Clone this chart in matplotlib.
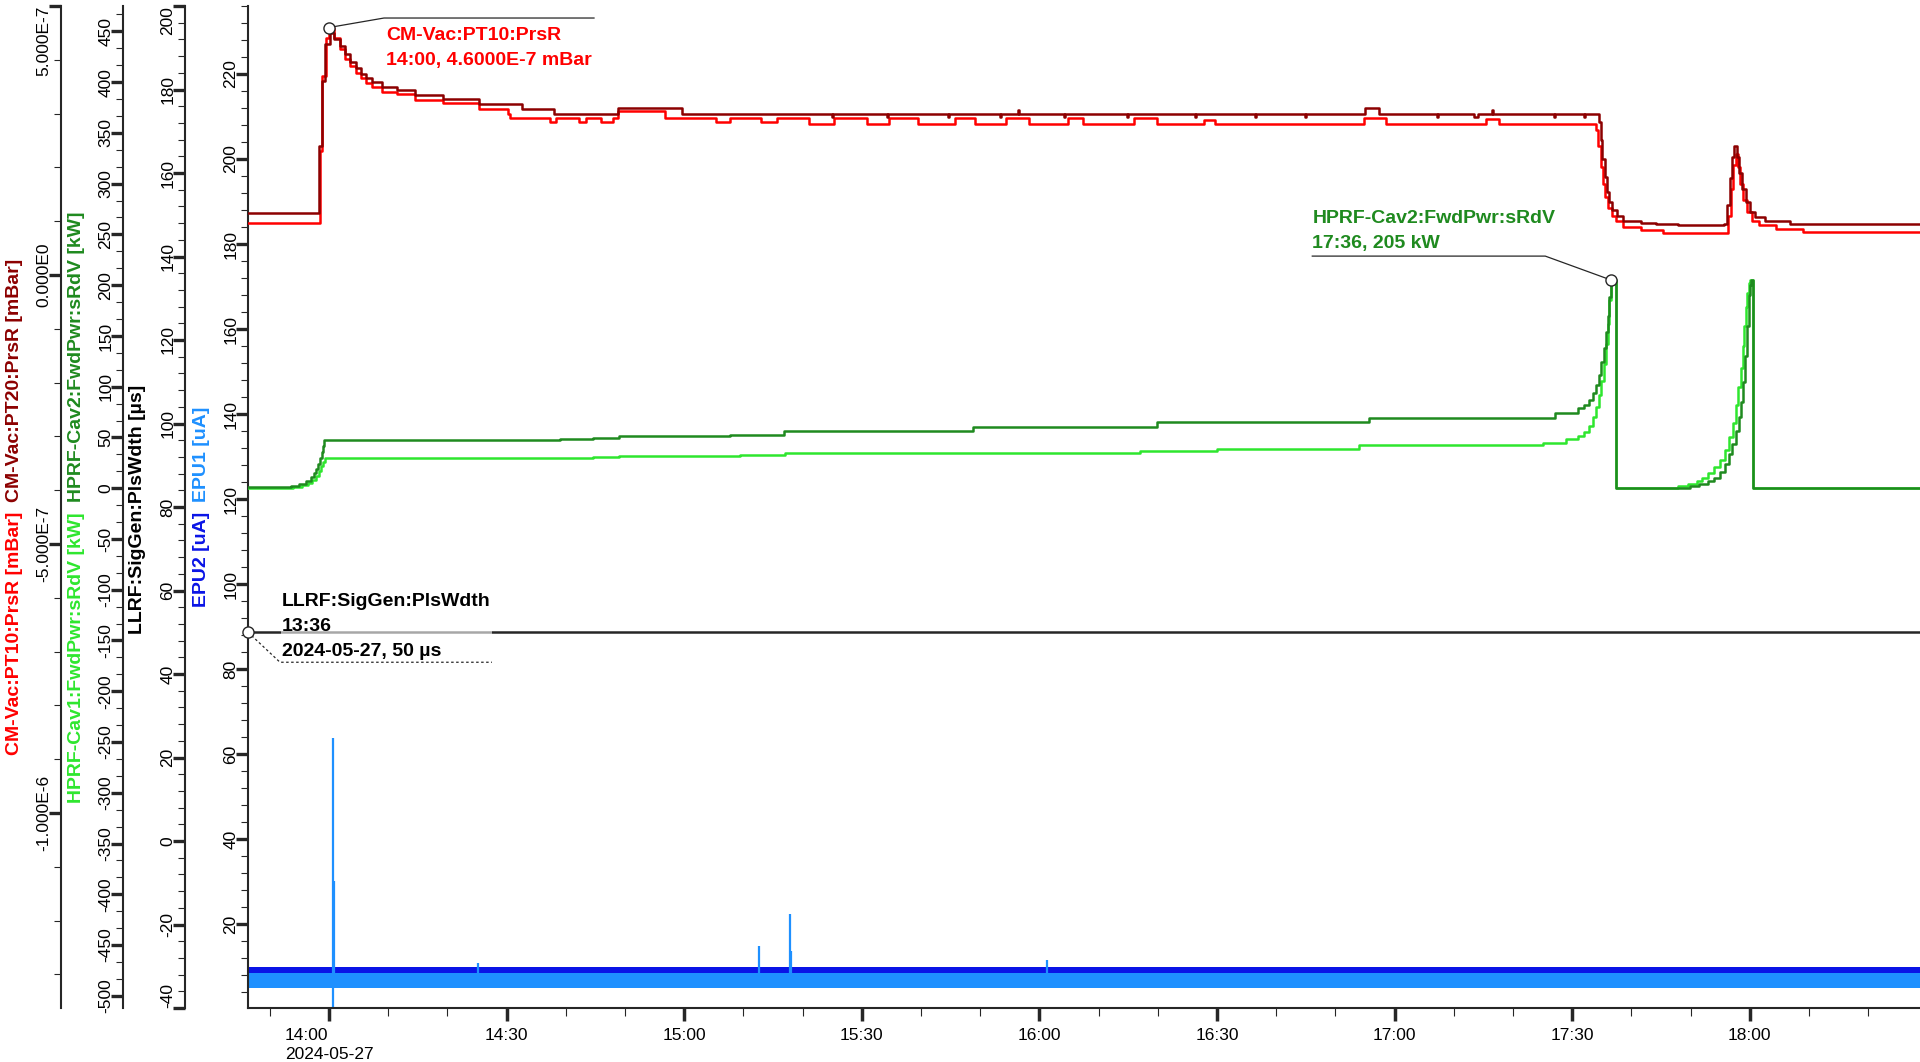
from datetime import datetime, timedelta

import matplotlib

matplotlib.use("Agg")
import matplotlib.dates as mdates
import matplotlib.pyplot as plt
from matplotlib import font_manager
from matplotlib.lines import Line2D
from matplotlib.ticker import AutoMinorLocator

W, H = 1920, 1062
T0 = datetime(2024, 5, 27, 14, 0)
VIEW = (datetime(2024, 5, 27, 13, 46, 19), datetime(2024, 5, 27, 18, 28, 45))

# (minutes after 14:00, value); pressures in units of 1e-7 mBar
PT10 = [
    (-20, 0.97), (-1.6, 2.3), (-1.1, 3.7), (-0.5, 4.4), (0.0, 4.6), (0.9, 4.4), (1.8, 4.2),
    (2.7, 4.02), (3.6, 3.88), (4.5, 3.76), (5.4, 3.66), (6.3, 3.57), (7.2, 3.5), (9.0, 3.41),
    (11.5, 3.36), (14.5, 3.26), (19.3, 3.2), (25.3, 3.09), (30.2, 3.0), (30.6, 2.92),
    (37.4, 2.84), (38.3, 2.92), (42.2, 2.84), (43.4, 2.92), (46.0, 2.84), (48.0, 2.92),
    (48.9, 3.04), (56.7, 2.92), (65.3, 2.84), (67.7, 2.92), (73.0, 2.84), (75.7, 2.92),
    (81.1, 2.80), (85.3, 2.92), (90.8, 2.80), (94.6, 2.92), (99.5, 2.80), (105.8, 2.92),
    (109.2, 2.80), (114.3, 2.92), (118.2, 2.80), (124.9, 2.92), (127.3, 2.80), (136.0, 2.92),
    (139.9, 2.80), (147.8, 2.88), (149.6, 2.80), (174.9, 2.92), (178.6, 2.80), (195.5, 2.90),
    (197.7, 2.80), (214.1, 2.7), (214.4, 2.4), (214.8, 2.0), (215.2, 1.7), (215.6, 1.45),
    (216.1, 1.25), (216.7, 1.1), (217.4, 1.0), (218.6, 0.9), (221.6, 0.83), (225.3, 0.78),
    (236.4, 1.1), (236.8, 1.6), (237.2, 2.05), (237.6, 2.25), (238.0, 2.0), (238.4, 1.7),
    (238.9, 1.4), (239.5, 1.18), (240.3, 1.0), (241.5, 0.92), (244.5, 0.86), (249.0, 0.80),
    (275, 0.78),
]
PT20 = [
    (-20, 1.15), (-1.7, 2.4), (-1.2, 3.6), (-0.6, 4.3), (0.1, 4.5), (0.9, 4.38), (1.8, 4.26),
    (2.7, 4.1), (3.6, 3.95), (4.5, 3.84), (5.4, 3.74), (6.3, 3.66), (7.2, 3.59), (9.0, 3.49),
    (11.5, 3.43), (14.5, 3.34), (19.3, 3.28), (25.3, 3.17), (32.6, 3.09), (38.0, 3.0),
    (48.9, 3.11), (59.7, 3.0), (85.0, 2.94), (85.2, 3.0), (94.3, 2.94), (94.5, 3.0),
    (104.6, 2.94), (104.8, 3.0), (113.3, 2.94), (113.5, 3.0), (116.4, 3.06), (116.6, 3.0),
    (124.2, 2.94), (124.4, 3.0), (134.8, 2.94), (135.0, 3.0), (146.3, 2.94), (146.5, 3.0),
    (156.4, 2.94), (156.6, 3.0), (164.9, 2.94), (165.1, 3.0), (175.0, 3.1), (177.4, 3.0),
    (187.2, 2.94), (187.4, 3.0), (193.4, 2.94), (194.1, 3.0), (196.5, 3.06), (196.7, 3.0),
    (206.9, 2.94), (207.1, 3.0), (212.0, 2.94), (212.2, 3.0), (214.5, 2.85), (214.8, 2.5),
    (215.1, 2.15), (215.5, 1.83), (215.9, 1.55), (216.3, 1.35), (216.8, 1.2), (217.5, 1.1),
    (218.6, 1.0), (221.6, 0.97), (224.1, 0.94), (227.8, 0.92), (235.6, 0.95), (236.2, 1.3),
    (236.6, 1.8), (237.0, 2.2), (237.4, 2.4), (237.8, 2.2), (238.2, 1.9), (238.7, 1.6),
    (239.3, 1.35), (240.0, 1.18), (240.8, 1.08), (242.5, 1.0), (246.8, 0.95), (275, 0.93),
]
# forward power, kW
CAV1 = [
    (-20, 0.5), (-6.0, 1.5), (-4.5, 3.0), (-3.5, 5.0), (-2.8, 8.0), (-2.2, 12.0), (-1.7, 17.0),
    (-1.3, 22.0), (-1.0, 26.0), (-0.7, 29.4), (44.6, 30.5), (49.0, 31.8), (69.5, 33.0),
    (77.0, 34.3), (137.0, 36.5), (150.0, 39.1), (174.0, 42.7), (205.0, 45.0), (209.0, 48.7),
    (211.0, 51.0), (212.0, 55.0), (212.8, 61.0), (213.5, 70.0), (214.0, 80.0), (214.5, 92.0),
    (214.9, 106.0), (215.3, 122.0), (215.7, 142.0), (216.0, 162.0), (216.3, 185.0),
    (216.6, 205.0), (217.4, 0.5), (227.8, 1.8), (229.5, 4.0), (231.0, 7.0), (231.9, 10.2),
    (233.0, 15.0), (234.0, 21.0), (235.0, 28.2), (235.8, 38.0), (236.5, 50.0), (237.1, 64.3),
    (237.6, 82.0), (238.0, 100.0), (238.5, 118.3), (238.8, 140.0), (239.1, 160.0),
    (239.4, 178.3), (239.6, 192.0), (239.8, 202.4), (240.0, 205.0), (240.6, 0.5), (275, 0.5),
]
CAV2 = [
    (-20, 1.0), (-6.5, 2.0), (-5.0, 4.0), (-3.9, 7.0), (-3.0, 11.0), (-2.6, 14.5), (-2.2, 19.0),
    (-1.8, 24.0), (-1.5, 30.0), (-1.2, 36.0), (-1.0, 42.0), (-0.8, 47.4), (39.0, 48.5),
    (44.6, 49.5), (49.0, 51.5), (67.7, 52.5), (76.8, 55.9), (108.8, 60.7), (139.9, 65.5),
    (175.7, 69.0), (207.1, 74.0), (211.0, 78.6), (212.0, 82.0), (212.8, 87.0), (213.5, 94.0),
    (214.0, 102.0), (214.5, 112.0), (214.9, 124.0), (215.3, 138.0), (215.7, 154.0),
    (216.0, 170.0), (216.3, 188.0), (216.6, 205.0), (217.4, 0.6), (229.9, 1.8), (231.5, 4.0),
    (233.0, 7.0), (234.0, 10.2), (235.0, 16.0), (235.8, 24.0), (236.5, 34.0), (237.0, 44.0),
    (237.6, 56.0), (238.1, 70.0), (238.5, 85.0), (238.9, 105.0), (239.2, 130.0),
    (239.5, 160.0), (239.8, 190.0), (240.0, 200.0), (240.2, 205.0), (240.6, 0.6), (275, 0.6),
]
# pulse width, us
PLSWDTH = [(-20, 50.0), (275, 50.0)]
# beam current envelopes (minutes, low, high), uA
EPU1_BAND = [(-20, 5.0, 8.6), (275, 5.0, 8.6)]
EPU2_BAND = [(-20, 7.9, 10.0), (275, 7.9, 10.0)]
EPU1_SPIKES = [(0.7, 63.8), (0.9, 30.2), (25.1, 11.0), (72.7, 15.0), (77.9, 22.4), (78.1, 13.6), (121.3, 11.5)]
EPU1_DIPS = [(0.7, 0.0)]

P_TICKS = [5, 0, -5, -10]
P_LABELS = ["5.000E-7", "0.000E0", "-5.000E-7", "-1.000E-6"]
KW_TICKS = [450, 400, 350, 300, 250, 200, 150, 100, 50, 0, -50, -100, -150, -200, -250,
            -300, -350, -400, -450, -500]
PW_TICKS = [200, 180, 160, 140, 120, 100, 80, 60, 40, 20, 0, -20, -40]
EPU_TICKS = [220, 200, 180, 160, 140, 120, 100, 80, 60, 40, 20]
X_TICKS = ["14:00", "14:30", "15:00", "15:30", "16:00", "16:30", "17:00", "17:30", "18:00"]
DAY_LABEL = "2024-05-27"

RED, DARK_RED = "#FF0000", "#8C0000"
LIGHT_GREEN, DARK_GREEN = "#2EE62E", "#1F8A1F"
BLACK = "#262626"
EPU1_BLUE, EPU2_BLUE = "#1E90FF", "#0A14E6"

names = {f.name for f in font_manager.fontManager.ttflist}
if "Liberation Sans Narrow" in names:
    plt.rcParams["font.family"] = ["Liberation Sans Narrow", "DejaVu Sans"]
    TICK_SIZE = 14.5
else:
    plt.rcParams["font.family"] = ["Liberation Sans", "DejaVu Sans"]
    TICK_SIZE = 12.5
BOLD = dict(family=["Liberation Sans", "DejaVu Sans"], fontweight="bold", fontsize=14)


def unzip(rows):
    cols = list(zip(*rows))
    return [T0 + timedelta(minutes=m) for m in cols[0]], *cols[1:]


fig = plt.figure(figsize=(W / 100, H / 100), dpi=100)
box = [248 / W, (H - 1008) / H, (W - 248) / W, (1008 - 6) / H]
ax_epu = fig.add_axes(box)
ax_p = fig.add_axes(box, sharex=ax_epu)
ax_kw = fig.add_axes(box, sharex=ax_epu)
ax_pw = fig.add_axes(box, sharex=ax_epu)

t, lo, hi = unzip(EPU2_BAND)
ax_epu.fill_between(t, lo, hi, step="post", color=EPU2_BLUE, lw=0)
t, lo, hi = unzip(EPU1_BAND)
ax_epu.fill_between(t, lo, hi, step="post", color=EPU1_BLUE, lw=0)
t, v = unzip(EPU1_SPIKES)
ax_epu.vlines(t, 7.0, v, color=EPU1_BLUE, lw=1.6)
t, v = unzip(EPU1_DIPS)
ax_epu.vlines(t, 7.0, v, color=EPU1_BLUE, lw=1.6)

for rows, color in ((PT10, RED), (PT20, DARK_RED)):
    t, v = unzip(rows)
    ax_p.plot(t, v, drawstyle="steps-post", color=color, lw=1.8)
for rows, color in ((CAV1, LIGHT_GREEN), (CAV2, DARK_GREEN)):
    t, v = unzip(rows)
    ax_kw.plot(t, v, drawstyle="steps-post", color=color, lw=1.8)
t, v = unzip(PLSWDTH)
ax_pw.plot(t, v, drawstyle="steps-post", color=BLACK, lw=1.8)

ax_epu.set_xlim(*VIEW)


def setup_axis(ax, spine_px, lim, ticks, labels, minor_n):
    for side in ("top", "right", "bottom"):
        ax.spines[side].set_visible(ax is ax_epu and side == "bottom")
    ax.spines["left"].set_position(("axes", (spine_px - 248) / (W - 248)))
    ax.spines["left"].set_linewidth(1.5)
    ax.spines["left"].set_color(BLACK)
    ax.patch.set_visible(False)
    ax.set_ylim(*lim)
    ax.set_yticks(ticks, labels=labels)
    ax.yaxis.set_minor_locator(AutoMinorLocator(minor_n))
    ax.tick_params(axis="y", which="major", length=8.5, width=2.4, pad=-1.5,
                   labelrotation=90, labelsize=TICK_SIZE, color=BLACK)
    ax.tick_params(axis="y", which="minor", length=5, width=0.8, color=BLACK)
    for lbl in ax.get_yticklabels():
        lbl.set_verticalalignment("center")
    if ax is not ax_epu:
        ax.xaxis.set_visible(False)


setup_axis(ax_epu, 248, (0.3, 236.0), EPU_TICKS, [str(v) for v in EPU_TICKS], 5)
setup_axis(ax_pw, 185, (-40, 200), PW_TICKS, [str(v) for v in PW_TICKS], 5)
setup_axis(ax_kw, 123, (-512, 475), KW_TICKS, [str(v) for v in KW_TICKS], 3)
setup_axis(ax_p, 61, (-13.625, 5), P_TICKS, P_LABELS, 5)

# keep the edge labels inside the plot height
ax_p.get_yticklabels()[0].set_verticalalignment("top")
ax_pw.get_yticklabels()[0].set_verticalalignment("top")
ax_pw.get_yticklabels()[-1].set_verticalalignment("bottom")

ax_epu.spines["bottom"].set_linewidth(1.5)
ax_epu.spines["bottom"].set_color(BLACK)
x_pos = [datetime.strptime(f"2024-05-27 {s}", "%Y-%m-%d %H:%M") for s in X_TICKS]
x_lab = [X_TICKS[0] + "\n" + DAY_LABEL] + X_TICKS[1:]
ax_epu.set_xticks(x_pos, labels=x_lab)
first = ax_epu.get_xticklabels()[0]
first.set_multialignment("left")
first.set_linespacing(1.35)
ax_epu.xaxis.set_minor_locator(mdates.MinuteLocator(byminute=[0, 10, 20, 30, 40, 50]))
ax_epu.tick_params(axis="x", which="major", length=9.5, width=2.5, pad=5,
                   labelsize=TICK_SIZE, color=BLACK)
ax_epu.tick_params(axis="x", which="minor", length=5.5, width=0.8, color=BLACK)


def stacked_label(x_px, lower, upper):
    cy = H - 507
    fig.text(x_px / W, (cy - 5) / H, lower[0], color=lower[1], rotation=90,
             ha="center", va="top", **BOLD)
    fig.text(x_px / W, (cy + 5) / H, upper[0], color=upper[1], rotation=90,
             ha="center", va="bottom", **BOLD)


stacked_label(15, ("CM-Vac:PT10:PrsR [mBar]", RED), ("CM-Vac:PT20:PrsR [mBar]", DARK_RED))
stacked_label(77, ("HPRF-Cav1:FwdPwr:sRdV [kW]", LIGHT_GREEN),
              ("HPRF-Cav2:FwdPwr:sRdV [kW]", DARK_GREEN))
fig.text(138 / W, (H - 509) / H, "LLRF:SigGen:PlsWdth [µs]", color="black", rotation=90,
         ha="center", va="center", **BOLD)
stacked_label(202, ("EPU2 [uA]", EPU2_BLUE), ("EPU1 [uA]", EPU1_BLUE))


def callout(ax, x, y, text, color, elbow, end_dx, text_dx, text_dy, va, dashed=False, backdrop=False):
    # offsets are screen pixels from the marker, +y pointing down as in the picture
    px, py = ax.transData.transform((mdates.date2num(x), y))
    ex, ey = px + elbow[0], py - elbow[1]
    ls = (0, (2, 2)) if dashed else "-"
    fig.add_artist(Line2D([px / W, ex / W, (px + end_dx) / W], [py / H, ey / H, ey / H],
                          color=BLACK, lw=0.9, ls=ls, zorder=5))
    fig.add_artist(Line2D([px / W], [py / H], marker="o", ms=8, mfc="white", mec=BLACK,
                          mew=1.0, ls="none", zorder=7))
    bbox = dict(boxstyle="square,pad=0.05", fc="white", ec="none", alpha=0.6) if backdrop else None
    fig.text((px + text_dx) / W, (py - text_dy) / H, text, color=color, ha="left", va=va,
             linespacing=1.62, bbox=bbox, zorder=6, **BOLD)


callout(ax_p, T0, 4.6, "CM-Vac:PT10:PrsR\n14:00, 4.6000E-7 mBar", RED,
        (55, -9.5), 265, 57, -1, "top")
callout(ax_kw, T0 + timedelta(minutes=216.6), 205, "HPRF-Cav2:FwdPwr:sRdV\n17:36, 205 kW",
        DARK_GREEN, (-66, -24), -299, -299, -28, "bottom")
callout(ax_pw, VIEW[0], 50, "LLRF:SigGen:PlsWdth\n13:36\n2024-05-27, 50 µs", "black",
        (32, 30), 244, 34, 28, "bottom", dashed=True, backdrop=True)

fig.savefig("out.png", dpi=100, facecolor="white")
